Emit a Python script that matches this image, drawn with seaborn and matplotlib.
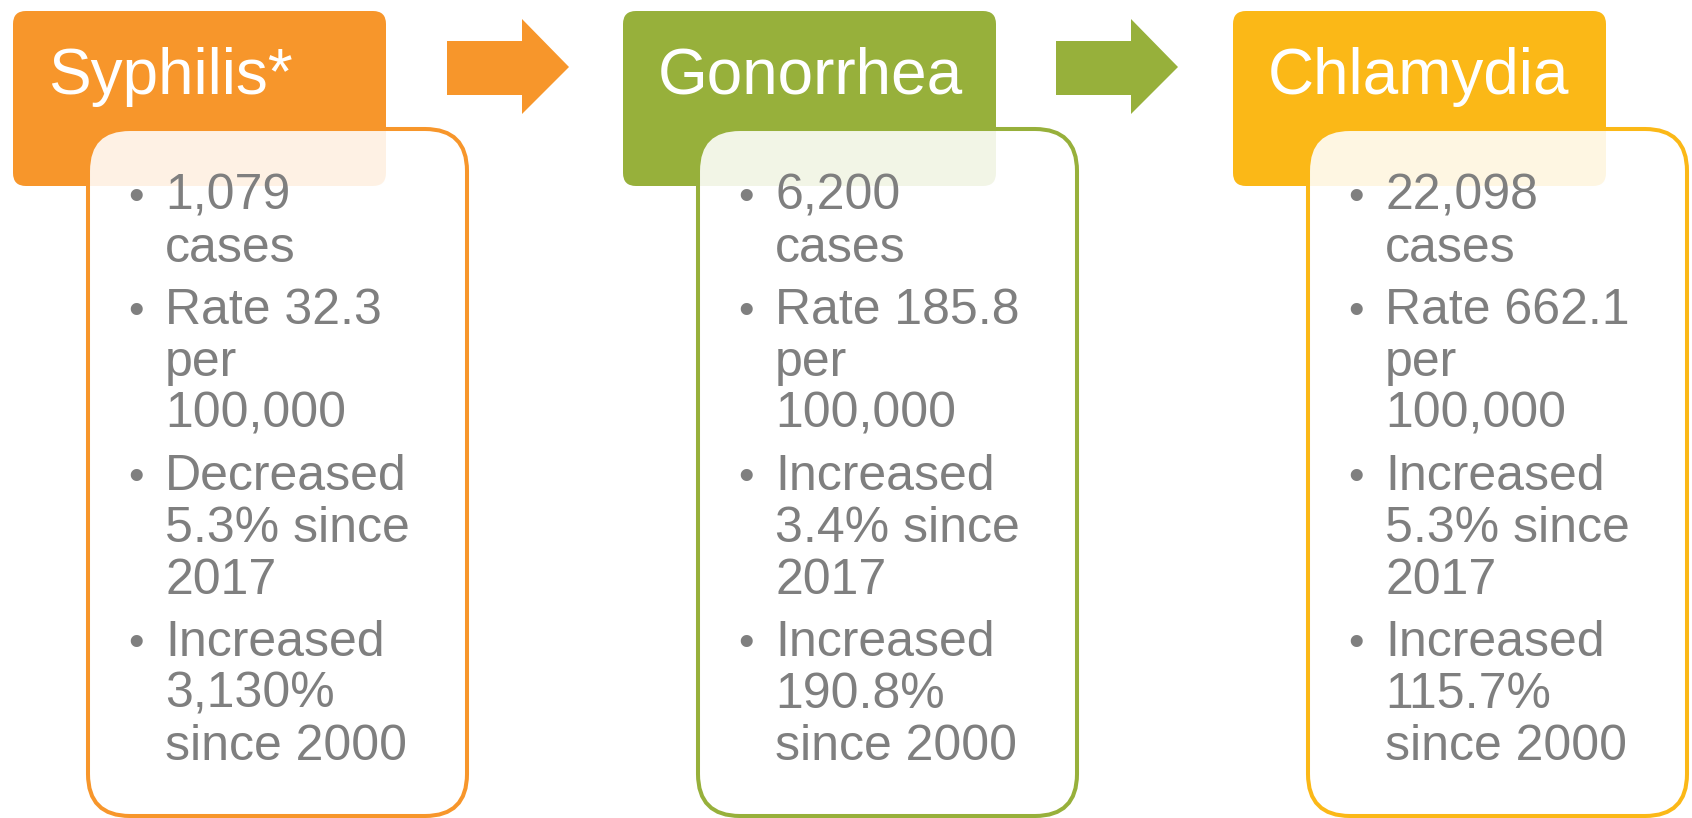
import numpy as np
import seaborn as sns
import matplotlib.pyplot as plt
from matplotlib.patches import FancyBboxPatch, Polygon

# data
diseases = ["Syphilis*", "Gonorrhea", "Chlamydia"]
case_counts = ["1,079", "6,200", "22,098"]
rates = ["32.3", "185.8", "662.1"]
trend_2017 = ["Decreased", "Increased", "Increased"]
pct_2017 = ["5.3%", "3.4%", "5.3%"]
pct_2000 = ["3,130%", "190.8%", "115.7%"]
box_colors = ["#F7962B", "#97B03B", "#FBB817"]

sns.set_theme(style="white")
plt.rcParams["font.family"] = ["Liberation Sans", "DejaVu Sans"]

W, H = 1692, 818
fig = plt.figure(figsize=(W / 100, H / 100), dpi=100)
ax = fig.add_axes([0, 0, 1, 1])
ax.set_xlim(0, W)
ax.set_ylim(H, 0)
ax.axis("off")

text_gray = "#7F7F7F"
step = 610

for i, name in enumerate(diseases):
    x0 = 13 + i * step
    col = box_colors[i]

    # header block
    ax.add_patch(FancyBboxPatch((x0, 11), 373, 175,
                                boxstyle="round,pad=0,rounding_size=13",
                                fc=col, ec="none", zorder=1))
    ax.text(x0 + 35, 94, name, color="white", fontsize=46,
            va="baseline", ha="left", zorder=5)

    # content block on top, semi transparent
    cx = x0 + 75
    ax.add_patch(FancyBboxPatch((cx, 129), 379, 687,
                                boxstyle="round,pad=0,rounding_size=42",
                                fc=(1, 1, 1, 0.88), ec=col, lw=2.9, zorder=2))

    bullets = [
        [case_counts[i], "cases"],
        ["Rate " + rates[i], "per", "100,000"],
        [trend_2017[i], pct_2017[i] + " since", "2017"],
        ["Increased", pct_2000[i], "since 2000"],
    ]
    y = 210
    for lines in bullets:
        ax.text(x0 + 115, y, "\u2022", color=text_gray, fontsize=32,
                va="baseline", ha="left", zorder=5)
        for ln in lines:
            ax.text(x0 + 152, y, ln, color=text_gray, fontsize=36,
                    va="baseline", ha="left", zorder=5)
            y += 52
        y += 10

    # arrow to next block
    if i < len(diseases) - 1:
        ax_ = 447 + i * 609
        pts = np.array([
            [ax_, 41], [ax_ + 75, 41], [ax_ + 75, 19], [ax_ + 122, 67],
            [ax_ + 75, 114], [ax_ + 75, 95], [ax_, 95],
        ])
        ax.add_patch(Polygon(pts, closed=True, fc=col, ec="none", zorder=1))

fig.savefig("out.png", dpi=100)
